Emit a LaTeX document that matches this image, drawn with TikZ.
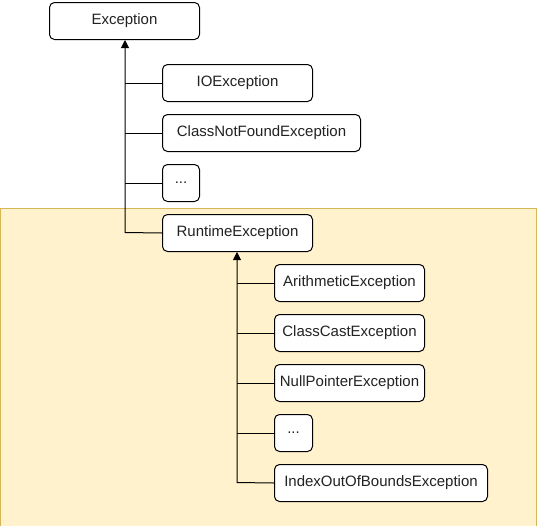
\documentclass[tikz,border=0pt]{standalone}
\usepackage{fontspec}
\setmainfont{Liberation Sans}
\usetikzlibrary{arrows.meta}
\definecolor{areafill}{HTML}{FFF2CC}
\definecolor{areadraw}{HTML}{D6B656}
\definecolor{txt}{HTML}{222222}
\begin{document}
\begin{tikzpicture}[x=1pt,y=-1pt,
  cls/.style={draw=black,line width=1pt,fill=white,rounded corners=5pt,
    minimum height=37pt,inner sep=0pt,font=\fontsize{15}{17}\selectfont,text=txt,anchor=north west},
  link/.style={draw=black,line width=1pt},
  inh/.style={link,-{Triangle[length=8pt,width=8pt]}}]
\useasboundingbox (0,0) rectangle (538,525);
\fill[white] (0,0) rectangle (538,525);
\draw[areadraw,fill=areafill,line width=1pt] (0.5,208) rectangle (536.5,530);
\node[cls,minimum width=150pt] (exc) at (49,2) {Exception};
\node[cls,minimum width=150pt] (io) at (162,64) {IOException};
\node[cls,minimum width=198pt] (cnf) at (162,114) {ClassNotFoundException};
\node[cls,minimum width=37pt] (dots1) at (162,164) {...};
\node[cls,minimum width=150pt] (rt) at (162,214) {RuntimeException};
\node[cls,minimum width=150pt] (ar) at (274,264) {ArithmeticException};
\node[cls,minimum width=150pt] (cc) at (274,314) {ClassCastException};
\node[cls,minimum width=150pt] (np) at (274,364) {NullPointerException};
\node[cls,minimum width=38pt] (dots2) at (274,414) {...};
\node[cls,minimum width=213pt] (ioob) at (274,464) {IndexOutOfBoundsException};
\coordinate (j1) at (125,232.5);
\coordinate (j2) at (237,482.5);
\draw[inh] (rt.west) -- (j1) -- (j1 |- exc.south);
\draw[link] (io.west) -- (j1 |- io.west);
\draw[link] (cnf.west) -- (j1 |- cnf.west);
\draw[link] (dots1.west) -- (j1 |- dots1.west);
\draw[inh] (ioob.west) -- (j2) -- (j2 |- rt.south);
\draw[link] (ar.west) -- (j2 |- ar.west);
\draw[link] (cc.west) -- (j2 |- cc.west);
\draw[link] (np.west) -- (j2 |- np.west);
\draw[link] (dots2.west) -- (j2 |- dots2.west);
\end{tikzpicture}
\end{document}
